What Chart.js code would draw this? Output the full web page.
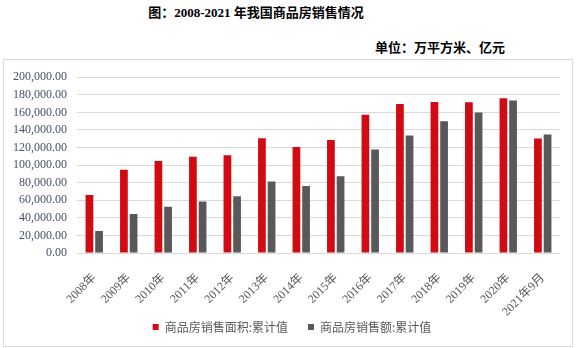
<!DOCTYPE html>
<html>
<head>
<meta charset="utf-8">
<script src="https://cdn.jsdelivr.net/npm/chart.js@4"></script>
<style>
  html, body { margin: 0; padding: 0; background: #fff; }
  body { width: 577px; height: 348px; position: relative; overflow: hidden; }
  #title { position: absolute; left: 0; top: 4px; width: 512px; text-align: center;
    font: bold 13px "Liberation Serif", "Noto Sans CJK SC", serif; color: #000; line-height: 18px; }
  #unit { position: absolute; right: 72px; top: 38px; text-align: right;
    font: bold 13px "Noto Sans CJK SC", sans-serif; color: #000; line-height: 18px; }
  #frame { position: absolute; left: 3px; top: 59px; width: 570px; height: 288px;
    box-sizing: border-box; border: 1px solid #d9d9d9; }
  #wrap { position: absolute; left: 4px; top: 60px; width: 567px; height: 285px; }
</style>
</head>
<body>
<div id="title">图：2008-2021 年我国商品房销售情况</div>
<div id="unit">单位：万平方米、亿元</div>
<div id="frame"></div>
<div id="wrap"><canvas id="c" width="567" height="285"></canvas></div>
<script>
const categories = ["2008年","2009年","2010年","2011年","2012年","2013年","2014年","2015年","2016年","2017年","2018年","2019年","2020年","2021年9月"];
const salesArea = [65969, 94755, 104765, 109366, 111304, 130551, 120649, 128495, 157349, 169408, 171654, 171558, 176086, 130332];
const salesAmount = [25068, 44355, 52721, 58589, 64456, 81428, 76292, 87281, 117627, 133701, 149973, 159725, 173613, 134795];
const seriesNames = ["商品房销售面积:累计值", "商品房销售额:累计值"];
const yTicks = [0, 20000, 40000, 60000, 80000, 100000, 120000, 140000, 160000, 180000, 200000];

const layoutTweaks = {
  id: 'layoutTweaks',
  afterLayout(chart) {
    if (chart.legend) { chart.legend.left += 10; chart.legend.right += 10; }
    if (chart.scales.x) { chart.scales.x.bottom += 20; }
  }
};

new Chart(document.getElementById('c'), {
  type: 'bar',
  data: {
    labels: categories,
    datasets: [
      { label: seriesNames[0], data: salesArea, backgroundColor: '#d20a12', borderWidth: 0,
        categoryPercentage: 0.56, barPercentage: 0.8 },
      { label: seriesNames[1], data: salesAmount, backgroundColor: '#595959', borderWidth: 0,
        categoryPercentage: 0.56, barPercentage: 0.8 }
    ]
  },
  plugins: [layoutTweaks],
  options: {
    responsive: false,
    animation: false,
    layout: { padding: { left: 0, right: 11, top: 10, bottom: 2 } },
    plugins: {
      title: { display: false },
      tooltip: { enabled: false },
      legend: {
        position: 'bottom',
        labels: {
          boxWidth: 6, boxHeight: 6, padding: 20,
          color: '#595959',
          font: { family: '"Noto Sans CJK SC", sans-serif', size: 12 }
        }
      }
    },
    scales: {
      x: {
        grid: { display: false },
        border: { display: false },
        ticks: {
          minRotation: 45, maxRotation: 45, padding: 10, autoSkip: false,
          color: '#595959',
          font: { family: '"Liberation Serif", "Noto Sans CJK SC", serif', size: 12 }
        },
        afterFit: (s) => { s.height = 48; }
      },
      y: {
        min: 0, max: 200000,
        afterBuildTicks: (s) => { s.ticks = yTicks.map(v => ({ value: v })); },
        grid: { color: '#d9d9d9', lineWidth: 1, drawTicks: false },
        border: { display: false },
        ticks: {
          padding: 10, autoSkip: false,
          color: '#46506a',
          font: { family: '"Liberation Serif", serif', size: 12 },
          callback: (v) => Number(v).toLocaleString('en-US', { minimumFractionDigits: 2, maximumFractionDigits: 2 })
        },
        afterFit: (s) => { s.width = 73; }
      }
    }
  }
});
</script>
</body>
</html>
